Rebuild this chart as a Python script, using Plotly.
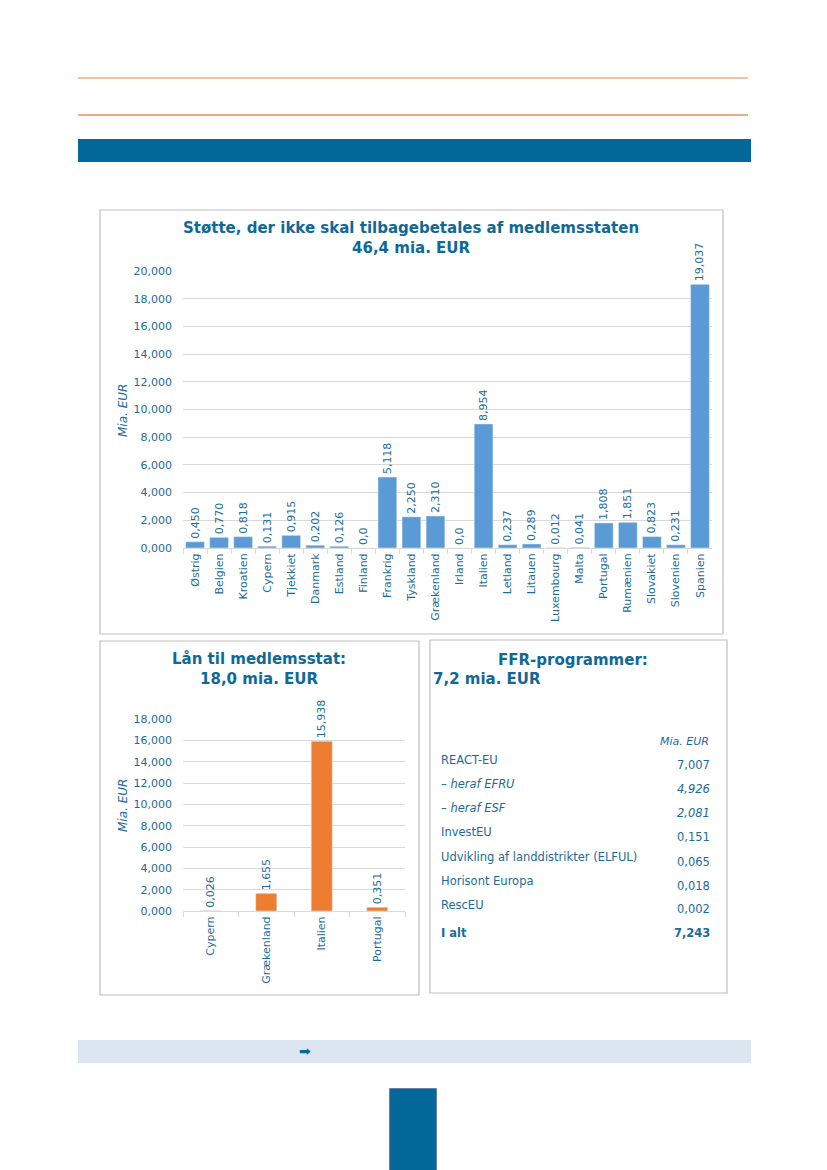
import plotly.graph_objects as go

W, H = 827, 1170
OFF = 8  # page body margin in the browser

# ---------------- data ----------------
grant_countries = ["Østrig", "Belgien", "Kroatien", "Cypern", "Tjekkiet", "Danmark", "Estland",
                   "Finland", "Frankrig", "Tyskland", "Grækenland", "Irland", "Italien", "Letland",
                   "Litauen", "Luxembourg", "Malta", "Portugal", "Rumænien", "Slovakiet",
                   "Slovenien", "Spanien"]
grant_values = [0.450, 0.770, 0.818, 0.131, 0.915, 0.202, 0.126, 0.0, 5.118, 2.250, 2.310, 0.0,
                8.954, 0.237, 0.289, 0.012, 0.041, 1.808, 1.851, 0.823, 0.231, 19.037]

loan_countries = ["Cypern", "Grækenland", "Italien", "Portugal"]
loan_values = [0.026, 1.655, 15.938, 0.351]

ffr_labels = ["REACT-EU", "– heraf EFRU", "– heraf ESF", "InvestEU",
              "Udvikling af landdistrikter (ELFUL)", "Horisont Europa", "RescEU", "I alt"]
ffr_values = ["7,007", "4,926", "2,081", "0,151", "0,065", "0,018", "0,002", "7,243"]
ffr_italic = [False, True, True, False, False, False, False, False]
ffr_bold = [False, False, False, False, False, False, False, True]

grant_title = "Støtte, der ikke skal tilbagebetales af medlemsstaten<br>46,4 mia. EUR"
loan_title = "Lån til medlemsstat:<br>18,0 mia. EUR"
unit_label = "Mia. EUR"

# ---------------- style ----------------
FONT = "DejaVu Sans"
TITLE_C = "#0f6896"
TXT_C = "#1c6b97"
GRID_C = "#d9d9d9"
BLUE_BAR = "#5b9bd5"
ORANGE_BAR = "#ed7d31"
DARK_BLUE = "#02689a"


def px(x):
    return (x - OFF) / W


def py(y):
    return 1 - (y - OFF) / H


def fmt(v):
    return "0,0" if v == 0 else f"{v:.3f}".replace(".", ",")


fig = go.Figure()

fig.add_trace(go.Bar(
    x=grant_countries, y=grant_values, marker_color=BLUE_BAR,
    text=[fmt(v) for v in grant_values], textposition="outside", textangle=-90,
    textfont=dict(family=FONT, size=11, color=TXT_C), cliponaxis=False,
    constraintext="none", xaxis="x", yaxis="y", showlegend=False, hoverinfo="skip"))

fig.add_trace(go.Bar(
    x=loan_countries, y=loan_values, marker_color=ORANGE_BAR, width=0.38,
    text=[fmt(v) for v in loan_values], textposition="outside", textangle=-90,
    textfont=dict(family=FONT, size=11, color=TXT_C), cliponaxis=False,
    constraintext="none", xaxis="x2", yaxis="y2", showlegend=False, hoverinfo="skip"))

xcommon = dict(type="category", showline=True, linecolor=GRID_C, linewidth=1,
               ticks="outside", tickson="boundaries", ticklen=5, tickcolor=GRID_C,
               tickangle=-90, tickfont=dict(family=FONT, size=11, color=TXT_C),
               showgrid=False, zeroline=False, fixedrange=True, automargin=False)
ycommon = dict(showline=False, ticks="", gridcolor=GRID_C, gridwidth=1, zeroline=False,
               tickformat=".3f", tickfont=dict(family=FONT, size=11, color=TXT_C),
               dtick=2, ticklabelstandoff=10, fixedrange=True, automargin=False)

fig.update_layout(
    width=W, height=H, autosize=False,
    margin=dict(l=0, r=0, t=0, b=0, pad=0),
    paper_bgcolor="white", plot_bgcolor="white",
    separators=",.",
    bargap=0.22,
    xaxis=dict(domain=[px(183), px(712)], anchor="y", **xcommon),
    yaxis=dict(domain=[py(548), py(271)], anchor="x", range=[0, 20], **ycommon),
    xaxis2=dict(domain=[px(183), px(405)], anchor="y2", **xcommon),
    yaxis2=dict(domain=[py(911), py(719.3)], anchor="x2", range=[0, 18], **ycommon),
    font=dict(family=FONT, color=TXT_C),
)

shapes = []
# orange rules
shapes.append(dict(type="line", xref="paper", yref="paper", x0=px(78), x1=px(748), y0=py(78), y1=py(78),
                   line=dict(color="#f4c39b", width=2)))
shapes.append(dict(type="line", xref="paper", yref="paper", x0=px(78), x1=px(748), y0=py(115), y1=py(115),
                   line=dict(color="#e3935f", width=1.5)))
# header bar
shapes.append(dict(type="rect", xref="paper", yref="paper", x0=px(78), x1=px(751), y0=py(162), y1=py(139),
                   fillcolor=DARK_BLUE, line=dict(width=0), layer="below"))
# panels
for (x0, y0, x1, y1) in [(100, 210, 723, 634), (100, 641, 419, 995), (430, 640, 727, 993)]:
    shapes.append(dict(type="rect", xref="paper", yref="paper", x0=px(x0), x1=px(x1), y0=py(y1), y1=py(y0),
                       fillcolor="rgba(0,0,0,0)", line=dict(color="#bfbfbf", width=1.2), layer="below"))
# bottom light bar
shapes.append(dict(type="rect", xref="paper", yref="paper", x0=px(78), x1=px(751), y0=py(1063), y1=py(1040),
                   fillcolor="#dce6f1", line=dict(width=0), layer="below"))
# page number tab
shapes.append(dict(type="rect", xref="paper", yref="paper", x0=px(390), x1=px(436), y0=py(1180), y1=py(1089),
                   fillcolor=DARK_BLUE, line=dict(color="#2f5a8a", width=1.5), layer="below"))
fig.update_layout(shapes=shapes)

ann = []
ann.append(dict(text="<b>" + grant_title.replace("<br>", "</b><br><b>") + "</b>", xref="paper", yref="paper",
                x=px(411), y=py(238), xanchor="center", yanchor="middle", showarrow=False,
                font=dict(family=FONT, size=15, color=TITLE_C), align="center"))
ann.append(dict(text="<b>" + loan_title.replace("<br>", "</b><br><b>") + "</b>", xref="paper", yref="paper",
                x=px(259), y=py(669), xanchor="center", yanchor="middle", showarrow=False,
                font=dict(family=FONT, size=15, color=TITLE_C), align="center"))
ann.append(dict(text="<b>FFR-programmer:</b>", xref="paper", yref="paper",
                x=px(573), y=py(660), xanchor="center", yanchor="middle", showarrow=False,
                font=dict(family=FONT, size=15, color=TITLE_C)))
ann.append(dict(text="<b>7,2 mia. EUR</b>", xref="paper", yref="paper",
                x=px(431), y=py(679), xanchor="left", yanchor="middle", showarrow=False,
                font=dict(family=FONT, size=15, color=TITLE_C)))
# y-axis titles
for yc in [410, 805]:
    ann.append(dict(text="<i>" + unit_label + "</i>", xref="paper", yref="paper",
                    x=px(123), y=py(yc), xanchor="center", yanchor="middle", textangle=-90,
                    showarrow=False, font=dict(family=FONT, size=12, color=TXT_C)))
# FFR table
ann.append(dict(text="<i>" + unit_label + "</i>", xref="paper", yref="paper",
                x=px(711), y=py(741), xanchor="right", yanchor="middle", showarrow=False,
                font=dict(family=FONT, size=11, color=TXT_C)))
label_y = [760, 784, 808, 832, 857, 881, 905, 933]
value_y = [765, 789, 813, 837, 862, 886, 909, 933]
for lab, val, it, bd, ly, vy in zip(ffr_labels, ffr_values, ffr_italic, ffr_bold, label_y, value_y):
    lt, vt = lab, val
    if it:
        lt = lt.replace("heraf", "<i>heraf") + "</i>"
        vt = "<i>" + vt + "</i>"
    if bd:
        lt = "<b>" + lt + "</b>"
        vt = "<b>" + vt + "</b>"
    ann.append(dict(text=lt, xref="paper", yref="paper", x=px(439), y=py(ly), xanchor="left",
                    yanchor="middle", showarrow=False, font=dict(family=FONT, size=11.5, color=TXT_C)))
    ann.append(dict(text=vt, xref="paper", yref="paper", x=px(712), y=py(vy), xanchor="right",
                    yanchor="middle", showarrow=False, font=dict(family=FONT, size=11.5, color=TXT_C)))
# arrow in bottom bar
ann.append(dict(text="➡", xref="paper", yref="paper", x=px(305), y=py(1051), xanchor="center",
                yanchor="middle", showarrow=False, font=dict(family=FONT, size=14, color=DARK_BLUE)))
fig.update_layout(annotations=ann)

fig.write_html("out.html")
